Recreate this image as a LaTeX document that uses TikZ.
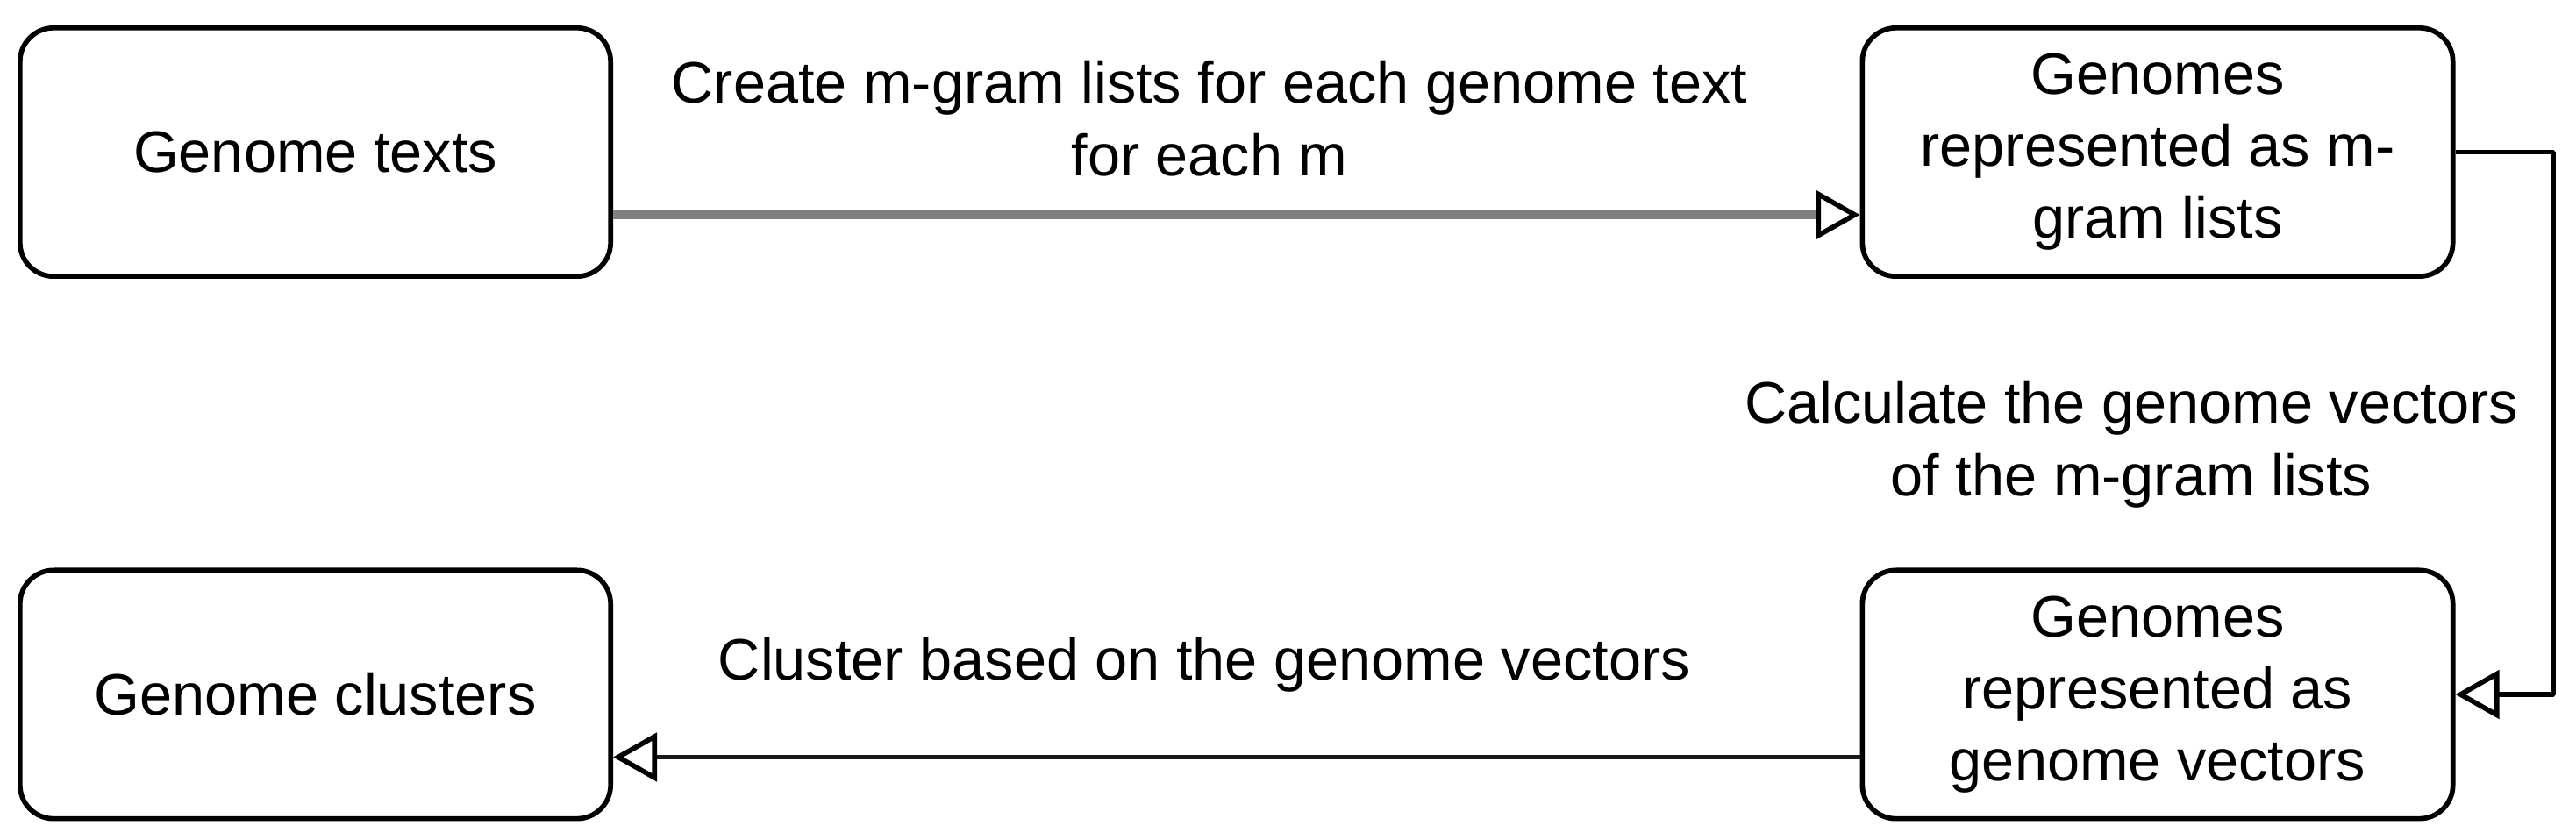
\documentclass[tikz,border=0pt]{standalone}
\usepackage{fontspec}
\setmainfont{Liberation Sans}
\usepackage{tikz}
\usetikzlibrary{arrows.meta}

\tikzset{
  stage/.style={draw=black, line width=1.7bp, rounded corners=11.5bp,
    minimum width=202bp, minimum height=85bp, align=center,
    font=\fontsize{20bp}{24.6bp}\selectfont},
  steplabel/.style={align=center, font=\fontsize{20bp}{24.9bp}\selectfont},
  flow/.style={line width=1.7bp,
    -{Triangle[length=15bp, width=16.5bp, line width=1.7bp, color=black, fill=white]}},
}

\begin{document}
\begin{tikzpicture}[line join=bevel,]
%%
\begin{scope}
\definecolor{fillcol}{rgb}{1.0,1.0,1.0};
\fill[fillcol] (0.0bp,0.0bp) rectangle (881.1bp,287.1bp);
\end{scope}
% Node: texts
\node[stage] (texts) at (107.85bp,235.05bp) {Genome texts};
% Node: mgram
\node[stage] (mgram) at (738.0bp,235.05bp) {Genomes\\represented as m-\\gram lists};
% Node: vectors
\node[stage] (vectors) at (738.0bp,49.5bp) {Genomes\\represented as\\genome vectors};
% Node: clusters
\node[stage] (clusters) at (107.85bp,49.5bp) {Genome clusters};
% Edge: texts -> mgram
\draw[flow, line width=2.8bp, color=black!50] ([yshift=-21.45bp]texts.east) -- ([yshift=-21.45bp]mgram.west);
\node[steplabel] (lcreate) at (413.7bp,246.5bp) {Create m-gram lists for each genome text\\for each m};
% Edge: mgram -> vectors
\draw[flow] (mgram.east) -- ++(33.6bp,0) |- (vectors.east);
\node[steplabel] (lcalc) at (729.0bp,135.0bp) {Calculate the genome vectors\\of the m-gram lists};
% Edge: vectors -> clusters
\draw[flow, color=black!90] ([yshift=-21.45bp]vectors.west) -- ([yshift=-21.45bp]clusters.east);
\node[steplabel] (lcluster) at (411.9bp,59.7bp) {Cluster based on the genome vectors};
%
\end{tikzpicture}
\end{document}
